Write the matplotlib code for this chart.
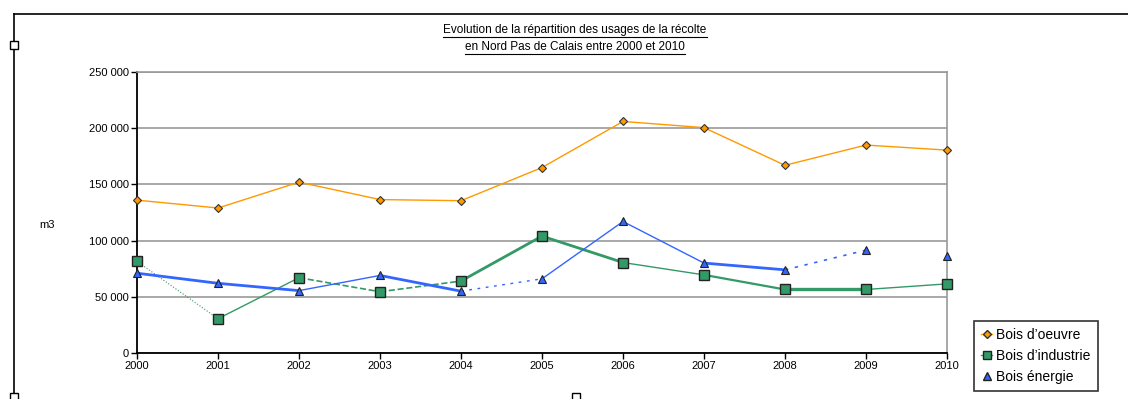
import matplotlib
matplotlib.use("Agg")
import matplotlib.pyplot as plt
from matplotlib.lines import Line2D
from matplotlib.patches import Rectangle
from matplotlib.ticker import FuncFormatter, MultipleLocator

years = [2000, 2001, 2002, 2003, 2004, 2005, 2006, 2007, 2008, 2009, 2010]
bois_oeuvre = [136000, 129000, 152000, 136500, 135500, 165000, 206000, 200500, 167000, 185000, 180500]
bois_industrie = [81500, 30500, 67000, 54500, 64000, 104000, 80500, 69500, 56500, 56500, 61500]
bois_energie = [71000, 62000, 55500, 69000, 55000, 66000, 117000, 80000, 74000, 91500, 86000]
series_names = ["Bois d\u2019oeuvre", "Bois d\u2019industrie", "Bois \u00e9nergie"]
title_lines = ["Evolution de la r\u00e9partition des usages de la r\u00e9colte",
               "en Nord Pas de Calais entre 2000 et 2010"]
ylabel = "m3"

plt.rcParams['font.family'] = ['Liberation Sans', 'DejaVu Sans']

W, H = 1128, 399
fig = plt.figure(figsize=(W / 100, H / 100), dpi=100)
fig.patch.set_facecolor("white")

# plot area in pixels: left 137, right 947, top 72, bottom 353
ax = fig.add_axes([137 / W, 1 - 353 / H, (947 - 137) / W, (353 - 72) / H])

orange = "#FF9900"
green = "#339966"
blue = "#3366FF"

x = list(range(len(years)))

# per-segment line styles (visual rendering of the reference)
seg_orange = ["-"] * 10
seg_green = [":", "-", "--", "--", "-", "-", "-", "-", "-", "-"]
seg_blue = ["-", "-", "-", "-", (0, (2, 4)), "-", "-", "-", (0, (2, 4)), None]
lw_orange = [1.0] * 10
lw_green = [0.8, 1.0, 1.2, 1.2, 2.0, 2.0, 1.0, 1.6, 2.4, 1.0]
lw_blue = [2.0, 2.0, 1.0, 2.0, 1.0, 1.0, 1.0, 2.0, 1.2, 1.0]


def draw_series(vals, color, segs, lws):
    for i in range(len(vals) - 1):
        if segs[i] is None:
            continue
        ax.plot(x[i:i + 2], vals[i:i + 2], color=color, linestyle=segs[i],
                linewidth=lws[i], solid_capstyle="butt", zorder=3)


draw_series(bois_oeuvre, orange, seg_orange, lw_orange)
draw_series(bois_industrie, green, seg_green, lw_green)
draw_series(bois_energie, blue, seg_blue, lw_blue)

ax.plot(x, bois_oeuvre, linestyle="none", marker="D", markersize=4.5,
        markerfacecolor=orange, markeredgecolor="#333333", markeredgewidth=0.8,
        zorder=5, clip_on=False)
ax.plot(x, bois_industrie, linestyle="none", marker="s", markersize=7,
        markerfacecolor=green, markeredgecolor="#222222", markeredgewidth=1.0,
        zorder=5, clip_on=False)
ax.plot(x, bois_energie, linestyle="none", marker="^", markersize=6,
        markerfacecolor=blue, markeredgecolor="#222222", markeredgewidth=0.8,
        zorder=6, clip_on=False)

ax.set_xlim(0, len(years) - 1)
ax.set_ylim(0, 250000)
ax.yaxis.set_major_locator(MultipleLocator(50000))
ax.yaxis.set_major_formatter(FuncFormatter(lambda v, p: f"{int(v):,}".replace(",", " ")))
ax.set_xticks(x)
ax.set_xticklabels([str(y) for y in years])
ax.grid(axis="y", color="#999999", linewidth=1.2)
ax.set_axisbelow(True)
ax.tick_params(axis="both", labelsize=8, length=4, width=1, color="black", pad=2)

for s in ["left", "bottom"]:
    ax.spines[s].set_color("black")
    ax.spines[s].set_linewidth(1.3)
for s in ["right", "top"]:
    ax.spines[s].set_color("#999999")
    ax.spines[s].set_linewidth(1.2)

fig.text(47 / W, 1 - 225 / H, ylabel, fontsize=8, ha="center", va="center")

# title with underline
t1 = fig.text(575 / W, 1 - 30 / H, title_lines[0], fontsize=8.5, ha="center", va="center")
t2 = fig.text(575 / W, 1 - 47 / H, title_lines[1], fontsize=8.5, ha="center", va="center")
fig.canvas.draw()
rend = fig.canvas.get_renderer()
for t in (t1, t2):
    bb = t.get_window_extent(rend)
    yline = bb.y0 - 0.5
    fig.add_artist(Line2D([bb.x0 / W, bb.x1 / W], [yline / H, yline / H],
                          transform=fig.transFigure, color="black", linewidth=0.8))

# legend
handles = [
    Line2D([], [], color=orange, marker="D", markersize=4.5, markerfacecolor=orange,
           markeredgecolor="#333333", linewidth=1.0),
    Line2D([], [], color=green, marker="s", markersize=6, markerfacecolor=green,
           markeredgecolor="#222222", linewidth=1.0),
    Line2D([], [], color=blue, marker="^", markersize=6, markerfacecolor=blue,
           markeredgecolor="#222222", linestyle="none"),
]
leg = fig.legend(handles, series_names, loc="upper left",
                 bbox_to_anchor=(974 / W, 1 - 321 / H), fontsize=10,
                 frameon=True, fancybox=False, edgecolor="black", handlelength=0.8,
                 handletextpad=0.3, borderpad=0.5, labelspacing=0.5, borderaxespad=0)
leg.get_frame().set_linewidth(1.2)

# outer chart frame and selection handles
fig.add_artist(Line2D([14 / W, 14 / W], [0, 1 - 14 / H], transform=fig.transFigure,
                      color="black", linewidth=1.2))
fig.add_artist(Line2D([14 / W, 1], [1 - 14 / H, 1 - 14 / H], transform=fig.transFigure,
                      color="black", linewidth=1.2))
for (hx, hy) in [(14, 45), (14, 397), (576, 397)]:
    fig.add_artist(Rectangle(((hx - 4) / W, 1 - (hy + 4) / H), 8 / W, 8 / H,
                             transform=fig.transFigure, facecolor="white",
                             edgecolor="black", linewidth=1.0, zorder=10))

fig.savefig("out.png", dpi=100, facecolor="white")
